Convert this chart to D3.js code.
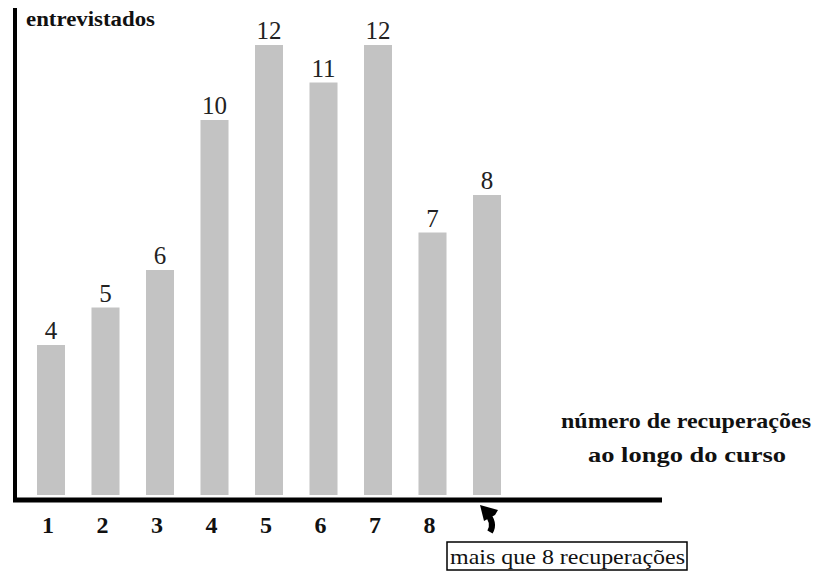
<!DOCTYPE html>
<html>
<head>
<meta charset="utf-8">
<script src="https://cdn.jsdelivr.net/npm/d3@7"></script>
<style>
  body { margin: 0; background: #fff; }
  svg { display: block; }
</style>
</head>
<body>
<div id="chart"></div>
<script>
// Data
const categories = ["1", "2", "3", "4", "5", "6", "7", "8", "9+"];
const values = [4, 5, 6, 10, 12, 11, 12, 7, 8];
const tickLabels = ["1", "2", "3", "4", "5", "6", "7", "8", ""];

const svgWidth = 819, svgHeight = 572;
const baseY = 495; // bottom of the bars

let svg = d3.select("#chart")
    .append("svg")
    .attr("width", svgWidth)
    .attr("height", svgHeight);

let x = d3.scaleBand()
    .domain(categories)
    .range([23.75, 514.25])
    .paddingInner(0.486)
    .paddingOuter(0.243);

let y = d3.scaleLinear()
    .domain([0, 12])
    .range([baseY, 45]);

// bars
svg.append("g")
    .selectAll("rect")
    .data(values)
    .enter()
    .append("rect")
        .attr("x", (d, i) => x(categories[i]))
        .attr("y", d => y(d))
        .attr("width", x.bandwidth())
        .attr("height", d => baseY - y(d))
        .attr("fill", "#c3c3c3");

// value labels over the bars
svg.append("g")
    .selectAll("text")
    .data(values)
    .enter()
    .append("text")
        .attr("x", (d, i) => x(categories[i]) + x.bandwidth() / 2)
        .attr("y", d => y(d) - 6)
        .attr("text-anchor", "middle")
        .style("font-family", "Liberation Serif, serif")
        .style("font-size", "25px")
        .attr("fill", "#222")
        .text(d => d);

// axes: thick black lines
svg.append("line")
    .attr("x1", 15).attr("x2", 15)
    .attr("y1", 8).attr("y2", 502)
    .attr("stroke", "#000").attr("stroke-width", 4);
svg.append("line")
    .attr("x1", 13).attr("x2", 662)
    .attr("y1", 500).attr("y2", 500)
    .attr("stroke", "#000").attr("stroke-width", 5);

// tick labels under the x axis
let xAxis = d3.axisBottom(x).tickSize(0).tickFormat((d, i) => tickLabels[i]);
let axisG = svg.append("g")
    .attr("transform", `translate(-3, 513)`)
    .call(xAxis);
axisG.select(".domain").remove();
axisG.selectAll("text")
    .style("font-family", "Liberation Serif, serif")
    .style("font-size", "24px")
    .style("font-weight", "bold")
    .attr("fill", "#111");

// y title
svg.append("text")
    .attr("x", 26).attr("y", 26)
    .attr("textLength", 129)
    .attr("lengthAdjust", "spacingAndGlyphs")
    .style("font-family", "Liberation Serif, serif")
    .style("font-size", "20px")
    .style("font-weight", "bold")
    .attr("fill", "#111")
    .text("entrevistados");

// x title
let xTitle = svg.append("g")
    .style("font-family", "Liberation Serif, serif")
    .style("font-size", "22px")
    .style("font-weight", "bold")
    .attr("fill", "#111");
xTitle.append("text").attr("x", 561).attr("y", 428)
    .attr("textLength", 250).attr("lengthAdjust", "spacingAndGlyphs")
    .text("número de recuperações");
xTitle.append("text").attr("x", 588).attr("y", 462)
    .attr("textLength", 198).attr("lengthAdjust", "spacingAndGlyphs")
    .text("ao longo do curso");

// curved arrow pointing at the last bar
let arrowX = x(categories[8]) + x.bandwidth() / 2;
svg.append("path")
    .attr("d", `M${arrowX + 3},${532} C${arrowX + 7},${525} ${arrowX + 5},${519} ${arrowX - 1},${513}`)
    .attr("fill", "none")
    .attr("stroke", "#000")
    .attr("stroke-width", 6);
svg.append("path")
    .attr("d", `M${arrowX - 7},${505} L${arrowX + 11},${510} L${arrowX + 8},${515} L${arrowX - 3},${521} Z`)
    .attr("fill", "#000");

// note box
svg.append("rect")
    .attr("x", 447).attr("y", 542)
    .attr("width", 240).attr("height", 28)
    .attr("fill", "#fff")
    .attr("stroke", "#000")
    .attr("stroke-width", 1.5);
svg.append("text")
    .attr("x", 450).attr("y", 564)
    .attr("textLength", 235)
    .attr("lengthAdjust", "spacingAndGlyphs")
    .style("font-family", "Liberation Serif, serif")
    .style("font-size", "21px")
    .attr("fill", "#111")
    .text("mais que 8 recuperações");
</script>
</body>
</html>
